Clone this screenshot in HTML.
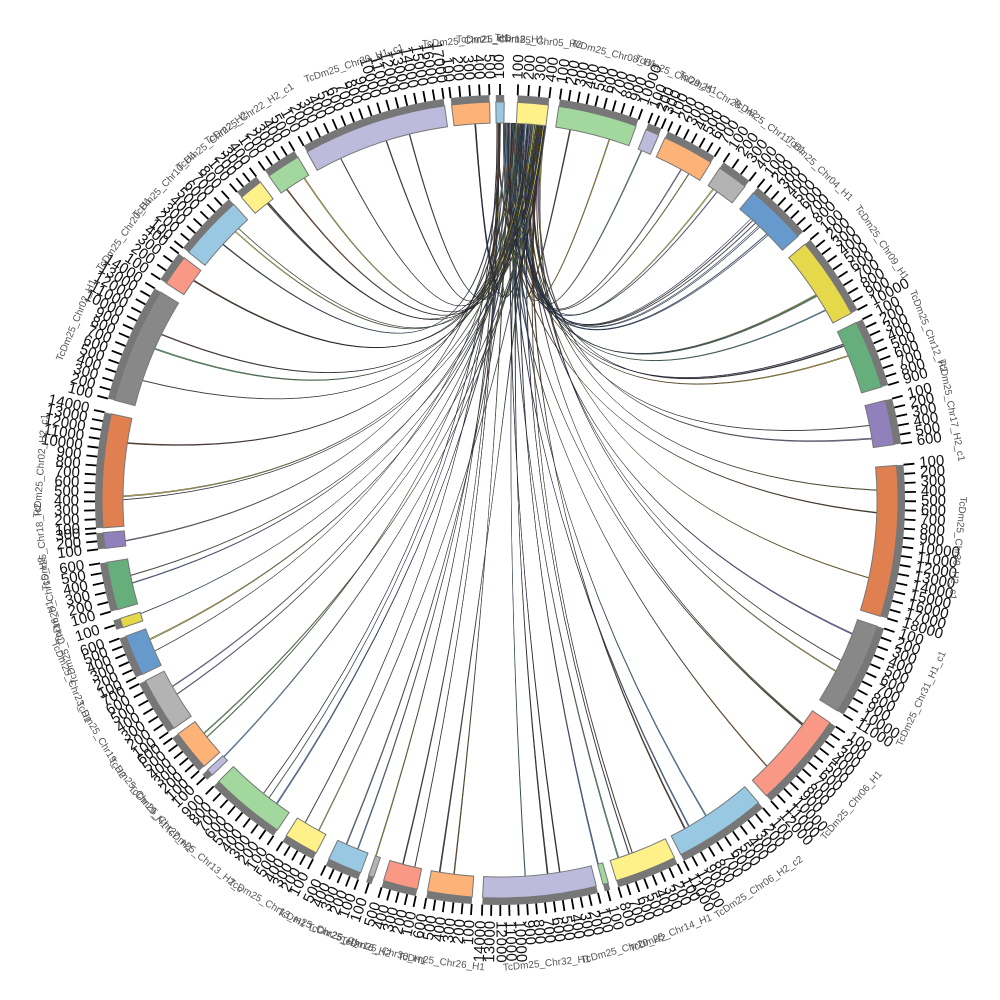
<!DOCTYPE html>
<html><head><meta charset="utf-8"><style>
html,body{margin:0;padding:0;background:#fff;width:1000px;height:1000px;overflow:hidden}
svg{display:block}
</style></head><body>
<svg id="s" width="1000" height="1000" viewBox="0 0 1000 1000" xmlns="http://www.w3.org/2000/svg"></svg>
<script>
var S=document.getElementById('s');
var CX=500,CY=500,RI=377,RO=398,RG=405,RT=416,RL=421,RN=460;
var secs=[
[-0.6,0.6,'#9ac8e2','TcDm25_Chr18_H1'],
[2.5,7,'#fef18a','TcDm25_Chr05_H2'],
[8.5,20,'#a2d89e','TcDm25_Chr08_H1'],
[21.5,23.5,'#bcbbdc','TcDm25_Chr29_H1'],
[24.5,32,'#fdb278','TcDm25_Chr28_H2'],
[33.5,38,'#b3b3b3','TcDm25_Chr11_H1'],
[39.5,48.5,'#6699cc','TcDm25_Chr04_H1'],
[50,62,'#e5d94b','TcDm25_Chr09_H1'],
[63.5,73.5,'#67ae7d','TcDm25_Chr12_H2'],
[75.5,82,'#9080bb','TcDm25_Chr17_H2_c1'],
[85,107,'#e08050','TcDm25_Chr30_H2_c1'],
[108.5,122,'#888888','TcDm25_Chr31_H1_c1'],
[124,138,'#f99985','TcDm25_Chr06_H1'],
[139.5,153,'#99c8e3','TcDm25_Chr06_H2_c2'],
[154,163,'#fef18a','TcDm25_Chr14_H1'],
[164.2,165,'#a2d89e','TcDm25_Chr20_H2'],
[166,182.5,'#bcbbdc','TcDm25_Chr32_H1'],
[184,190.5,'#fdb278','TcDm25_Chr26_H1'],
[192,197,'#f99985','TcDm25_Chr30_H1'],
[198.5,199.3,'#b3b3b3','TcDm25_Chr16_H2'],
[200.5,205.5,'#99c8e3','TcDm25_Chr25_H2'],
[207.5,212.5,'#fef18a','TcDm25_Chr13_H1'],
[214,225,'#a2d89e','TcDm25_Chr13_H2_c'],
[226.3,227.3,'#bcbbdc','TcDm25_Chr27_H1'],
[228,234,'#fdb278','TcDm25_Chr19_H1'],
[235,243,'#b3b3b3','TcDm25_Chr19_H2'],
[244,250,'#6699cc','TcDm25_Chr23_H1'],
[251.3,252.7,'#e5d94b','TcDm25_Chr16_H1'],
[254,261,'#67ae7d','TcDm25_Chr15_H2'],
[263,265.3,'#9080bb','TcDm25_Chr18_H2'],
[266,282.5,'#e08050','TcDm25_Chr02_H2_c1'],
[284.5,301.5,'#888888','TcDm25_Chr02_H1'],
[303,307.5,'#f99985','TcDm25_Chr20_H1'],
[308.5,318,'#99c8e3','TcDm25_Chr10_H1'],
[319.5,323,'#fef18a','TcDm25_Chr22_H2'],
[324.5,329.5,'#a2d89e','TcDm25_Chr22_H2_c1'],
[331,352,'#bcbbdc','TcDm25_Chr30_H1_c1'],
[353,358.5,'#fdb278','TcDm25_Chr21_H1']
];
function P(r,t){var a=t*Math.PI/180;return [CX+r*Math.sin(a),CY-r*Math.cos(a)];}
function f(p){return p[0].toFixed(1)+','+p[1].toFixed(1);}
function arc(r1,r2,a,b){var la=(b-a)>180?1:0;
return 'M'+f(P(r1,a))+'A'+r1+','+r1+' 0 '+la+' 1 '+f(P(r1,b))+'L'+f(P(r2,b))+'A'+r2+','+r2+' 0 '+la+' 0 '+f(P(r2,a))+'Z';}
var h='';
var seed=7;function rnd(){seed=(seed*16807)%2147483647;return (seed-1)/2147483646;}
var lc=['#222','#1a1a2e','#3a2a1a','#223344','#2a3a2a','#333'];
var fillc=['#8b5a2b','#e5d94b','#6699cc','#67ae7d','#444','#9080bb'];
for(var i=1;i<secs.length;i++){
 var s=secs[i];var n=(s[1]-s[0]>8)?3:((s[1]-s[0]>3)?2:1);
 if(i<=2)n=2;
 for(var k=0;k<n;k++){
  var a1=-0.5+rnd()*7.5, w=0.08+rnd()*0.15;
  var a2=s[0]+(s[1]-s[0])*(0.15+rnd()*0.7);
  var p1=P(RI,a1),p2=P(RI,a2),q1=P(RI,a1+w),q2=P(RI,a2+w*0.8);
  var c=[500,470];
  var d='M'+f(p1)+'Q'+f(c)+' '+f(p2)+'L'+f(q2)+'Q'+f(c)+' '+f(q1)+'Z';
  h+='<path d="'+d+'" fill="'+fillc[Math.floor(rnd()*fillc.length)]+'" stroke="'+lc[Math.floor(rnd()*lc.length)]+'" stroke-width="0.45"/>';
 }
}
for(var k=0;k<4;k++){var a1=1+rnd()*5,a2=41+rnd()*6;
 h+='<path d="M'+f(P(RI,a1))+'Q500,470 '+f(P(RI,a2))+'" fill="none" stroke="#1a2a44" stroke-width="0.6"/>';}
secs.forEach(function(s){
 h+='<path d="'+arc(RI,RO,s[0],s[1])+'" fill="'+s[2]+'" stroke="#777" stroke-width="1"/>';
 h+='<path d="'+arc(RO,RG,s[0],s[1])+'" fill="#777" stroke="none"/>';
 var span=s[1]-s[0];var nt=Math.max(1,Math.round(span/1.3));
 for(var j=0;j<=nt;j++){var t=s[0]+span*j/nt;if(span<1.5)t=(s[0]+s[1])/2;
  var a=P(RG,t),b=P(RT,t);
  h+='<line x1="'+a[0].toFixed(1)+'" y1="'+a[1].toFixed(1)+'" x2="'+b[0].toFixed(1)+'" y2="'+b[1].toFixed(1)+'" stroke="#000" stroke-width="1.8"/>';
  var lp=P(RL,t);var lab=(j+1)+'00';if(j>=9)lab=(j+1)+'000';
  var right=(t%360+360)%360<180;
  var rot=right?(t-90):(t+90);
  h+='<text x="'+lp[0].toFixed(1)+'" y="'+lp[1].toFixed(1)+'" transform="rotate('+rot.toFixed(1)+' '+lp[0].toFixed(1)+' '+lp[1].toFixed(1)+')" font-family="Liberation Sans,sans-serif" font-size="15" fill="#111" dominant-baseline="middle" text-anchor="'+(right?'start':'end')+'">'+lab+'</text>';
  if(span<1.5)break;
 }
 var m=(s[0]+s[1])/2;var mm=(m%360+360)%360;
 var bottom=mm>110&&mm<250;var np=P(bottom?RN+6:RN,m);
 var r2=bottom?m-180:m;
 h+='<text x="'+np[0].toFixed(1)+'" y="'+np[1].toFixed(1)+'" transform="rotate('+r2.toFixed(1)+' '+np[0].toFixed(1)+' '+np[1].toFixed(1)+')" font-family="Liberation Sans,sans-serif" font-size="10" fill="#555" text-anchor="middle" dominant-baseline="middle">'+s[3]+'</text>';
});
S.innerHTML=h;
</script>
</body></html>
